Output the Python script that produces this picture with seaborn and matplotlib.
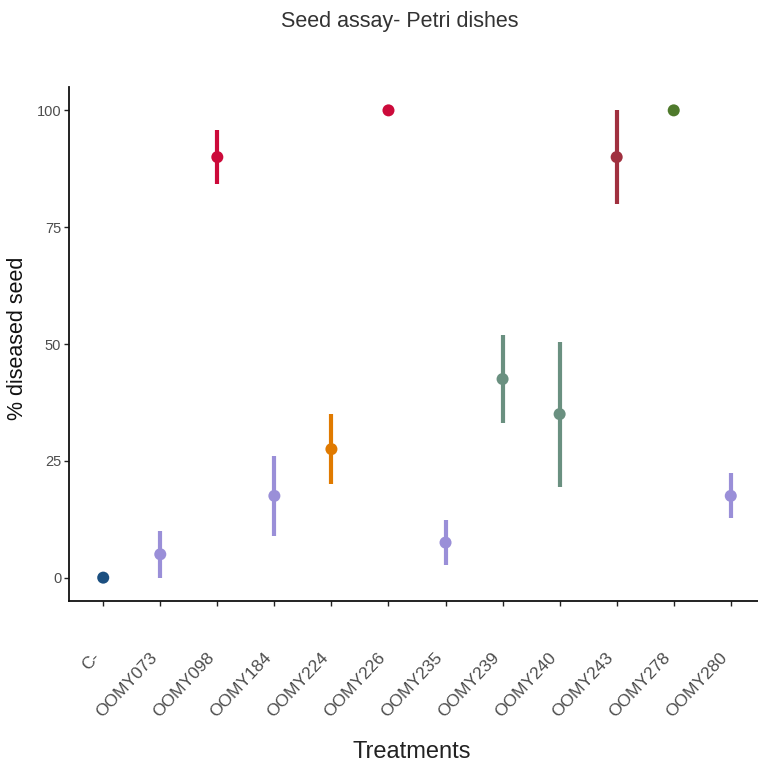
import matplotlib
matplotlib.use("Agg")
import matplotlib.pyplot as plt
import matplotlib.transforms as mtransforms
import seaborn as sns
import pandas as pd

treatments = ["C-", "OOMY073", "OOMY098", "OOMY184", "OOMY224", "OOMY226",
              "OOMY235", "OOMY239", "OOMY240", "OOMY243", "OOMY278", "OOMY280"]
means = [0, 5, 90, 17.5, 27.5, 100, 7.5, 42.5, 35, 90, 100, 17.5]
lower = [0, 0, 84.2, 9.0, 20.0, 100, 2.7, 33.1, 19.5, 80, 100, 12.7]
upper = [0, 10, 95.8, 26.0, 35.0, 100, 12.3, 51.9, 50.5, 100, 100, 22.3]
colors = ["#1b4f80", "#9a8fd8", "#cc0a3a", "#9a8fd8", "#e07a00", "#cc0a3a",
          "#9a8fd8", "#6a9080", "#6a9080", "#a0303f", "#4f7a2c", "#9a8fd8"]
yticks = [0, 25, 50, 75, 100]

sns.set_theme(style="white")
plt.rcParams["font.family"] = ["Liberation Sans", "DejaVu Sans"]

df = pd.DataFrame({"Treatment": treatments, "mean": means, "lo": lower, "hi": upper})
palette = dict(zip(treatments, colors))

fig = plt.figure(figsize=(7.58, 7.71), dpi=100)
ax = fig.add_axes([69 / 758, 1 - 601 / 771, (765 - 69) / 758, (601 - 87) / 771])

sns.scatterplot(data=df, x="Treatment", y="mean", hue="Treatment", palette=palette,
                s=75, linewidth=0, legend=False, ax=ax, zorder=3)
xs = list(range(len(treatments)))
ax.vlines(xs, df["lo"], df["hi"], colors=colors, linewidth=3.0, zorder=2)

ax.set_xlim(-0.6, len(treatments) - 0.4)
ax.set_ylim(-5, 105)
ax.set_yticks(yticks)
ax.set_yticklabels([str(v) for v in yticks], fontsize=10.5, color="#4d4d4d")
ax.set_xticks(xs)
ax.set_xticklabels(treatments, fontsize=12.5, color="#4d4d4d", rotation=47,
                   ha="right", va="center", rotation_mode="anchor")
ax.tick_params(axis="both", length=3.6, width=1.0, color="#222222", bottom=True, left=True)
ax.tick_params(axis="x", pad=35)
ax.tick_params(axis="y", pad=2)
off = mtransforms.ScaledTranslation(-0.06, 0, fig.dpi_scale_trans)
for lab in ax.get_xticklabels():
    lab.set_transform(lab.get_transform() + off)

for s in ["top", "right"]:
    ax.spines[s].set_visible(False)
for s in ["left", "bottom"]:
    ax.spines[s].set_color("#111111")
    ax.spines[s].set_linewidth(1.3)

ax.set_xlabel("")
ax.set_ylabel("")
fig.text(18 / 758, 1 - 338 / 771, "% diseased seed", rotation=90, ha="center", va="center",
         fontsize=15.5, color="#111111")
fig.text(412 / 758, 1 - 752 / 771, "Treatments", ha="center", va="center",
         fontsize=17, color="#222222")
fig.text(400 / 758, 1 - 21 / 771, "Seed assay- Petri dishes", ha="center", va="center",
         fontsize=15.5, color="#333333")

fig.savefig("out.png", dpi=100, facecolor="white")
